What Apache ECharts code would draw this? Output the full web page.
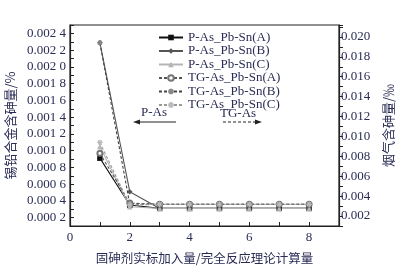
<!DOCTYPE html>
<html>
<head>
<meta charset="utf-8">
<script src="https://cdn.jsdelivr.net/npm/echarts@6/dist/echarts.min.js"></script>
<style>
  html, body { margin: 0; padding: 0; background: #fff; }
  #chart { width: 409px; height: 269px; }
</style>
</head>
<body>
<div id="chart"></div>
<script>
const xs = [1, 2, 3, 4, 5, 6, 7, 8]
// left axis: tin-lead alloy arsenic content (%)
const pAsA = [0.00091, 0.00035, 0.00031, 0.00031, 0.00031, 0.00031, 0.00031, 0.00031]
const pAsB = [0.00229, 0.00051, 0.00031, 0.00031, 0.00031, 0.00031, 0.00031, 0.00031]
const pAsC = [0.00105, 0.00033, 0.00031, 0.00031, 0.00031, 0.00031, 0.00031, 0.00031]
// right axis: flue gas arsenic content (‰)
const tgA = [0.0083, 0.0033, 0.00318, 0.00318, 0.00318, 0.00318, 0.00318, 0.00318]
const tgB = [0.0194, 0.0032, 0.00318, 0.00318, 0.00318, 0.00318, 0.00318, 0.00318]
const tgC = [0.0094, 0.0031, 0.00318, 0.00318, 0.00318, 0.00318, 0.00318, 0.00318]
const xTickLabels = ['0', '2', '4', '6', '8']

const SERIF = '"Liberation Serif", "DejaVu Serif", serif'
const CJK = '"Noto Sans CJK SC", sans-serif'
const TXT = '#2a2c55'

const pairs = vals => xs.map((x, i) => [x, vals[i]])

function lineSeries(name, vals, axis, color, symbol, dashed, symbolColor, hollow) {
  return {
    name,
    type: 'line',
    yAxisIndex: axis,
    data: pairs(vals),
    symbol,
    symbolSize: symbol === 'emptyCircle' ? 5 : 5.5,
    lineStyle: { width: 1.1, color, type: dashed ? [3, 2] : 'solid' },
    itemStyle: { color: symbolColor || color, borderColor: symbolColor || color, borderWidth: hollow ? 1.1 : 0 },
    z: dashed ? 3 : 2,
  }
}

const chart = echarts.init(document.getElementById('chart'))
chart.setOption({
  animation: false,
  grid: {
    left: 70, right: 70, top: 25, bottom: 43,
    outerBoundsMode: 'none', containLabel: false,
    show: true, borderColor: '#222', borderWidth: 1.2,
  },
  legend: {
    orient: 'vertical',
    left: 153,
    top: 26,
    itemWidth: 24,
    itemHeight: 7,
    itemGap: 0.5,
    textStyle: { fontFamily: SERIF, fontSize: 13, color: TXT, lineHeight: 13 },
    data: ['P-As_Pb-Sn(A)', 'P-As_Pb-Sn(B)', 'P-As_Pb-Sn(C)', 'TG-As_Pb-Sn(A)', 'TG-As_Pb-Sn(B)', 'TG-As_Pb-Sn(C)'],
  },
  xAxis: {
    type: 'value',
    min: 0,
    max: 9,
    interval: 1,
    name: '固砷剂实标加入量/完全反应理论计算量',
    nameLocation: 'middle',
    nameGap: 26,
    nameTextStyle: { fontFamily: CJK, fontSize: 12.5, color: TXT },
    axisLine: { show: true, lineStyle: { color: '#222', width: 1.2 } },
    axisTick: { show: true, inside: true, length: 4, lineStyle: { color: '#222' } },
    axisLabel: {
      fontFamily: SERIF, fontSize: 13, color: TXT, margin: 5,
      formatter: v => xTickLabels.includes(String(v)) ? String(v) : '',
    },
    splitLine: { show: false },
  },
  yAxis: [
    {
      type: 'value',
      position: 'left',
      min: 0.0001,
      max: 0.0025,
      interval: 0.0001,
      name: '锡铅合金含砷量/%',
      nameLocation: 'middle',
      nameGap: 45,
      nameTextStyle: { fontFamily: CJK, fontSize: 13, color: TXT },
      axisLine: { show: true, lineStyle: { color: '#222', width: 1.2 } },
      axisTick: { show: true, inside: true, length: 4, lineStyle: { color: '#222' } },
      axisLabel: {
        fontFamily: SERIF, fontSize: 13, color: TXT, margin: 4,
        formatter: v => {
          const n = Math.round(v * 10000)
          if (n % 2 !== 0) return ''
          const s = (n / 10000).toFixed(4)
          return s.slice(0, 5) + ' ' + s.slice(5)
        },
      },
      splitLine: { show: false },
    },
    {
      type: 'value',
      position: 'right',
      min: 0.001,
      max: 0.0212,
      interval: 0.001,
      name: '烟气含砷量/‰',
      nameLocation: 'middle',
      nameGap: 39,
      nameTextStyle: { fontFamily: CJK, fontSize: 13, color: TXT },
      axisLine: { show: true, lineStyle: { color: '#222', width: 1.2 } },
      axisTick: { show: true, inside: false, length: 4, lineStyle: { color: '#222' } },
      axisLabel: {
        fontFamily: SERIF, fontSize: 13, color: TXT, margin: 2,
        formatter: v => {
          const n = Math.round(v * 1000)
          if (n % 2 !== 0 || v > 0.0205) return ''
          return (n / 1000).toFixed(3)
        },
      },
      splitLine: { show: false },
    },
  ],
  series: [
    lineSeries('P-As_Pb-Sn(A)', pAsA, 0, '#111', 'rect', false),
    lineSeries('P-As_Pb-Sn(B)', pAsB, 0, '#555', 'diamond', false),
    lineSeries('P-As_Pb-Sn(C)', pAsC, 0, '#b5b5b5', 'triangle', false),
    lineSeries('TG-As_Pb-Sn(A)', tgA, 1, '#555', 'emptyCircle', true, '#777', true),
    lineSeries('TG-As_Pb-Sn(B)', tgB, 1, '#444', 'path://M0,5L10,5M5,0L5,10M1.5,1.5L8.5,8.5M8.5,1.5L1.5,8.5', true, '#888', true),
    lineSeries('TG-As_Pb-Sn(C)', tgC, 1, '#999', 'path://M0,5L10,5M5,0L5,10M1.5,1.5L8.5,8.5M8.5,1.5L1.5,8.5', true, '#bbb', true),
  ],
  graphic: [
    { type: 'text', left: 141, top: 106, style: { text: 'P-As', font: '13px ' + SERIF, fill: TXT } },
    { type: 'line', shape: { x1: 137, y1: 122, x2: 176, y2: 122 }, style: { stroke: '#222', lineWidth: 1 } },
    { type: 'polygon', shape: { points: [[133, 122], [140, 119.5], [140, 124.5]] }, style: { fill: '#222' } },
    { type: 'text', left: 220, top: 107, style: { text: 'TG-As', font: '13px ' + SERIF, fill: TXT } },
    { type: 'line', shape: { x1: 223, y1: 122, x2: 257, y2: 122 }, style: { stroke: '#222', lineWidth: 1, lineDash: [3, 2] } },
    { type: 'polygon', shape: { points: [[262, 122], [255, 119.5], [255, 124.5]] }, style: { fill: '#222' } },
  ],
})
</script>
</body>
</html>
